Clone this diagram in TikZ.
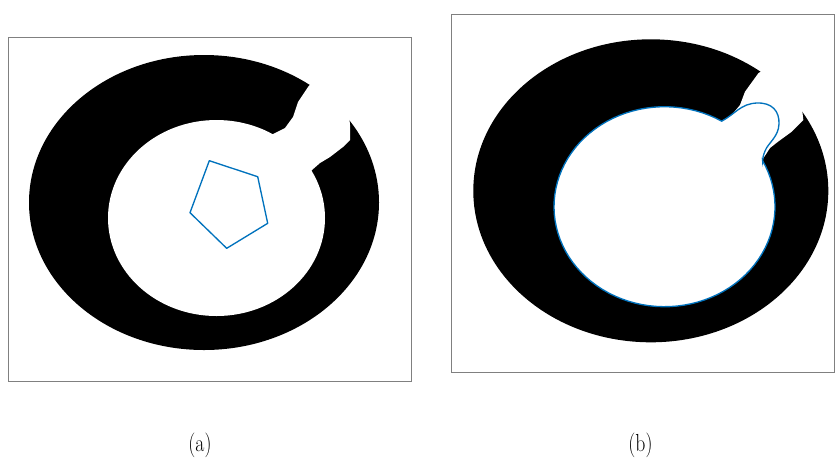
\documentclass[tikz,border=0pt]{standalone}
\usepackage{xcolor}
\usepackage{graphicx}
\usepackage{tikz}
\definecolor{contorno}{RGB}{0,114,189}
\definecolor{marco}{RGB}{128,128,128}
\newcommand{\rotulo}[1]{\scalebox{0.8}[1]{\fontsize{18.5}{22}\selectfont #1}}

\begin{document}
\begin{tikzpicture}[x=0.75pt, y=-0.75pt, line width=0.8pt]
    \useasboundingbox (0,0) rectangle (835,462);
    % (a) anillo con ranura y contorno inicial
    \draw[marco,line width=0.75pt] (8.5,37.5) rectangle (411,381);
    \fill[black] (204,202.5) ellipse [x radius=175, y radius=147.5];
    \fill[white] (216.5,218) ellipse [x radius=108.5, y radius=98];
    \fill[white] (268,140) -- (273,134) -- (285,128) -- (293,117) -- (298,102)
        -- (308,87) -- (318,75) -- (348,105) -- (350,125) -- (350,140) -- (343,147)
        -- (330,157) -- (320,163) -- (312,170) -- (305,178) -- cycle;
    \draw[contorno,line width=1pt,line join=round] (209.3,160.7) -- (257.7,176.7)
        -- (267.7,223.3) -- (226.7,248.3) -- (190,212.7) -- cycle;
    % (b) mismo anillo, contorno final
    \draw[marco,line width=0.75pt] (451.5,14.5) rectangle (834.5,372.5);
    \fill[black] (650.8,190.8) ellipse [x radius=177.5, y radius=151.5];
    \fill[white] (664.5,206.7) ellipse [x radius=110.5, y radius=100];
    \fill[white] (716,128) -- (721.7,121) -- (731.7,115) -- (740,105) -- (745,91.7)
        -- (758.3,73.3) -- (770,65) -- (800,90) -- (802.3,111) -- (803.3,120)
        -- (791.7,131.7) -- (778,141.7) -- (770,148) -- (763.3,158.3) -- (755,165) -- cycle;
    \draw[contorno,line width=1pt]
        plot[domain=-27.4:301.2, samples=90] ({664.5+110.5*cos(\x)},{206.7+100*sin(\x)})
        .. controls (735,114) and (741,103.5) .. (757,103)
        .. controls (772,102.5) and (779.5,111) .. (779,124)
        .. controls (778.5,137) and (768,143) .. (765,151)
        .. controls (763.5,155) and (762.5,158) .. (762.6,160.7) -- cycle;
    % rotulos
    \node (rotA) at (200,445) {\rotulo{(a)}};
    \node (rotB) at (640.5,445) {\rotulo{(b)}};
\end{tikzpicture}
\end{document}
